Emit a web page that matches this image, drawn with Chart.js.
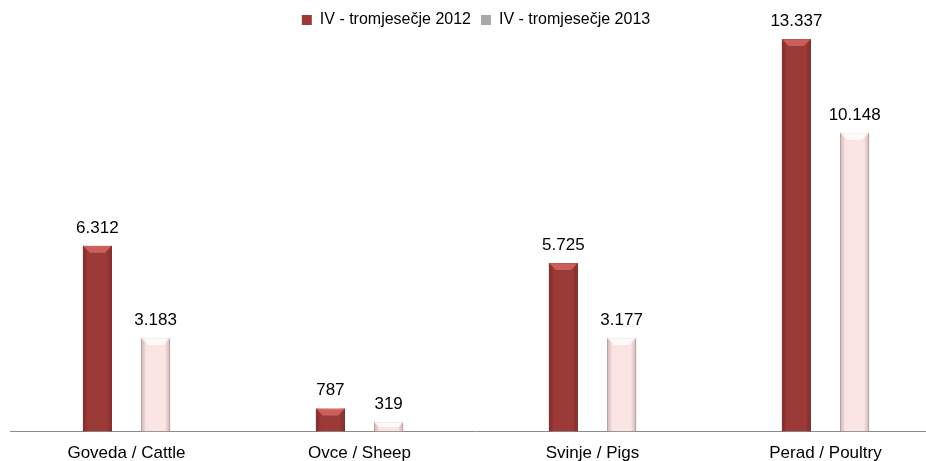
<!DOCTYPE html>
<html lang="hr">
<head>
    <meta charset="UTF-8">
    <title>Stoka - IV tromjesečje</title>
    <style>
        html, body { margin: 0; padding: 0; background: #fff; overflow: hidden; }
        /* chart is a bit wider than the window, the right edge is cut off like in the original */
        #wrap { position: relative; width: 942px; height: 461px; }
    </style>
    <script src="https://cdn.jsdelivr.net/npm/chart.js"></script>
</head>
<body>
    <div id="wrap"><canvas id="myChart"></canvas></div>

    <script>
        // data
        const categories = ['Goveda / Cattle', 'Ovce / Sheep', 'Svinje / Pigs', 'Perad / Poultry'];
        const seriesNames = ['IV - tromjesečje 2012', 'IV - tromjesečje 2013'];
        const values2012 = [6312, 787, 5725, 13337];
        const values2013 = [3183, 319, 3177, 10148];

        const FONT = '"Liberation Sans", Arial, sans-serif';

        // 6312 -> "6.312"
        function fmt(v) {
            return String(v).replace(/\B(?=(\d{3})+(?!\d))/g, '.');
        }

        // value labels above bars + a little bevel on each bar
        const barDecor = {
            id: 'barDecor',
            afterDatasetsDraw(chart) {
                const c = chart.ctx;
                chart.data.datasets.forEach((ds, di) => {
                    const meta = chart.getDatasetMeta(di);
                    meta.data.forEach((bar, i) => {
                        const left = bar.x - bar.width / 2;
                        const right = bar.x + bar.width / 2;
                        const top = bar.y;
                        const bottom = bar.base;
                        const h = bottom - top;
                        const bev = Math.min(7, h / 2);
                        c.save();
                        // side shading
                        const g = c.createLinearGradient(left, 0, right, 0);
                        const edge = di === 0 ? '90,20,20' : '150,120,120';
                        g.addColorStop(0, 'rgba(' + edge + ',0.45)');
                        g.addColorStop(0.18, 'rgba(' + edge + ',0)');
                        g.addColorStop(0.82, 'rgba(' + edge + ',0)');
                        g.addColorStop(1, 'rgba(' + edge + ',0.45)');
                        c.fillStyle = g;
                        c.fillRect(left, top, right - left, h);
                        // top bevel
                        c.beginPath();
                        c.moveTo(left, top);
                        c.lineTo(right, top);
                        c.lineTo(right - bev, top + bev);
                        c.lineTo(left + bev, top + bev);
                        c.closePath();
                        c.fillStyle = di === 0 ? 'rgba(235,120,115,0.6)' : 'rgba(255,255,255,0.8)';
                        c.fill();
                        c.restore();

                        // value label
                        c.save();
                        c.font = '17px ' + FONT;
                        c.fillStyle = '#000';
                        c.textAlign = 'center';
                        c.textBaseline = 'alphabetic';
                        c.fillText(fmt(ds.data[i]), bar.x, top - 13);
                        c.restore();
                    });
                });
            }
        };

        const ctx = document.getElementById('myChart').getContext('2d');
        const myChart = new Chart(ctx, {
            type: 'bar',
            data: {
                labels: categories,
                datasets: [{
                    label: seriesNames[0],
                    data: values2012,
                    backgroundColor: '#9c3a38',
                    borderColor: '#7e2c2a',
                    borderWidth: 1,
                    barPercentage: 0.5,
                    categoryPercentage: 0.5
                }, {
                    label: seriesNames[1],
                    data: values2013,
                    backgroundColor: '#fbe4e4',
                    borderColor: '#c9b3b3',
                    borderWidth: 1,
                    barPercentage: 0.5,
                    categoryPercentage: 0.5
                }]
            },
            options: {
                responsive: true,
                maintainAspectRatio: false,
                animation: false,
                layout: { padding: { left: 10, right: 0, top: 2, bottom: -15 } },
                plugins: {
                    tooltip: { enabled: false },
                    legend: {
                        position: 'top',
                        labels: {
                            font: { family: FONT, size: 16 },
                            color: '#000',
                            boxWidth: 10,
                            boxHeight: 10,
                            padding: 10,
                            generateLabels(chart) {
                                const sw = ['#9c3a38', '#a8a8a8'];
                                return chart.data.datasets.map((ds, i) => ({
                                    text: ds.label,
                                    fillStyle: sw[i],
                                    strokeStyle: sw[i],
                                    lineWidth: 0,
                                    datasetIndex: i,
                                    fontColor: '#000'
                                }));
                            }
                        }
                    }
                },
                scales: {
                    x: {
                        grid: { display: false, drawTicks: false },
                        border: { color: '#8c8c8c', width: 1 },
                        ticks: { font: { family: FONT, size: 17 }, color: '#000', padding: 12 }
                    },
                    y: {
                        display: false,
                        min: 0,
                        max: 13371
                    }
                }
            },
            plugins: [barDecor]
        });
    </script>
</body>
</html>
